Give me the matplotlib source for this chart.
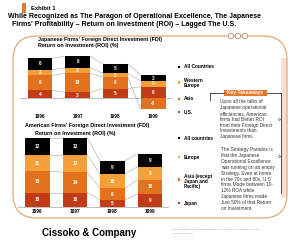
import matplotlib
matplotlib.use("Agg")
import matplotlib.pyplot as plt
from matplotlib.patches import FancyBboxPatch, Rectangle, Circle
import numpy as np

plt.rcParams['font.family'] = ['Liberation Sans', 'DejaVu Sans']

W, H = 300, 241

years = ["1996", "1997", "1998", "1999"]

# Japanese firms' FDI ROI (%), bottom to top
jp_labels = ["U.S.", "Asia", "Western\nEurope", "All Countries"]
jp_us = [4, 3, 5, 6]
jp_asia = [8, 10, 6, -6]
jp_europe = [3, 3, 2, 3]
jp_all = [6, 6, 5, 3]

# American firms' FDI ROI (%), bottom to top
us_labels = ["Japan", "Asia (except\nJapan and\nPacific)", "Europe", "All countries"]
us_japan = [10, 10, 5, 9]
us_asia = [15, 14, 8, 10]
us_europe = [11, 12, 10, 9]
us_all = [12, 12, 9, 9]

colors = ["#C23B17", "#E2721D", "#F4A03A", "#000000"]
orange = "#E8782A"

para1 = ("Upon all the talks of\nJapanese operational\nefficiencies, American\n"
         "firms had Better ROI\nfrom their Foreign Direct\nInvestments than\nJapanese firms.")
para2 = ("The Strategy Paradox is\nthat the Japanese\nOperational Excellence\n"
         "was running on an empty\nStrategy. Even at home\nin the 70s and 80s, U.S\n"
         "firms Made between 10-\n12% ROA while\nJapanese firms made\n"
         "Just 50% of that Return\non Investment.")

fig = plt.figure(figsize=(W / 100, H / 100), dpi=100)
bg = fig.add_axes([0, 0, 1, 1])
bg.set_xlim(0, W)
bg.set_ylim(H, 0)
bg.axis("off")


def px_axes(x0, y0, x1, y1):
    a = fig.add_axes([x0 / W, 1 - y1 / H, (x1 - x0) / W, (y1 - y0) / H])
    a.patch.set_alpha(0)
    a.axis("off")
    return a


def stacked(ax, series, year_y):
    x = np.arange(len(years))
    bw = 0.66
    pos = np.zeros(len(years))
    neg = np.zeros(len(years))
    for vals, c in zip(series, colors):
        vals = np.array(vals, float)
        bottom = np.where(vals >= 0, pos, neg)
        ax.bar(x, vals, bottom=bottom, width=bw, color=c, edgecolor="none", zorder=3)
        for xi, b, v in zip(x, bottom, vals):
            ax.text(xi, b + v / 2, str(int(v)), color="white", ha="center", va="center",
                    fontsize=3.4, fontweight="bold", zorder=4)
        end = bottom + vals
        for i in range(len(x) - 1):
            ax.plot([x[i] + bw / 2, x[i + 1] - bw / 2], [end[i], end[i + 1]],
                    color="#A6A6A6", lw=0.4, zorder=2)
        pos = np.where(vals >= 0, end, pos)
        neg = np.where(vals < 0, end, neg)
    ax.axhline(0, color="#A6A6A6", lw=0.5, zorder=2)
    for xi, yr in zip(x, years):
        ax.text(xi, year_y, yr, ha="center", va="center", fontsize=3.4, fontweight="bold")
    ax.set_xlim(-0.53, 3.5)


# frame
bg.add_patch(Rectangle((281, 58), 6, 140, fc="#F8DDD2", ec="none"))
bg.add_patch(FancyBboxPatch((13, 36), 274, 182, boxstyle="round,pad=0,rounding_size=24",
                            fc="none", ec="#E3A878", lw=0.9))
for cx in [231, 238, 245]:
    bg.add_patch(Circle((cx, 36), 2.7, fc="white", ec="#B98A6A", lw=0.6, zorder=3))

# header
bg.add_patch(Rectangle((22, 3), 3.5, 10, fc=orange, ec="none"))
bg.text(31, 8.5, "Exhibit 1", fontsize=4.2, fontweight="bold", va="center")
bg.text(8, 16, "While Recognized as The Paragon of Operational Excellence, The Japanese",
        fontsize=5.0, fontweight="bold", va="center")
bg.text(10, 24, " Firms' Profitability \u2013 Return on Investment (ROI) \u2013 Lagged The U.S.",
        fontsize=5.0, fontweight="bold", va="center")

# chart titles
bg.text(38, 39.5, "Japanese Firms' Foreign Direct Investment (FDI)", fontsize=3.9,
        fontweight="bold", va="center")
bg.text(38, 45.5, "Return on Investment (ROI) (%)", fontsize=3.9, fontweight="bold", va="center")
bg.text(25, 126, "American Firms' Foreign Direct Investment (FDI)", fontsize=3.9,
        fontweight="bold", va="center")
bg.text(35, 133, "Return on Investment (ROI) (%)", fontsize=3.9, fontweight="bold", va="center")

# charts
ax1 = px_axes(20, 50, 172, 111)
stacked(ax1, [jp_us, jp_asia, jp_europe, jp_all], -9.6)
ax1.set_ylim(-6.8, 25.3)

ax2 = px_axes(17.6, 130, 168.7, 209)
stacked(ax2, [us_japan, us_asia, us_europe, us_all], -3.4)
ax2.set_ylim(-1.4, 53.5)

# legends
for lab, c, y in zip(jp_labels[::-1], colors[::-1], [67, 82.5, 99, 112]):
    bg.add_patch(Rectangle((177.5, y - 1.3), 2.6, 2.6, fc=c, ec="none"))
    bg.text(184, y, lab, fontsize=3.4, fontweight="bold", va="center", linespacing=1.0)
for lab, c, y in zip(us_labels[::-1], colors[::-1], [138, 157, 179.5, 203]):
    bg.add_patch(Rectangle((177.5, y - 1.3), 2.6, 2.6, fc=c, ec="none"))
    bg.text(184, y if "\n" not in lab else y - 5.5, lab, fontsize=3.4, fontweight="bold",
            va="center" if "\n" not in lab else "top", linespacing=1.0)

# key takeaways
bg.add_patch(Rectangle((224, 89.5), 43, 6, fc=orange, ec="none"))
bg.text(245.5, 92.6, "Key Takeaways", color="white", fontsize=3.5, fontweight="bold",
        ha="center", va="center")
bg.plot([210, 224], [92.5, 92.5], color="#333333", lw=0.6)
bg.plot([210, 210], [92.5, 100], color="#333333", lw=0.6)
bg.plot([267, 281], [92.5, 92.5], color="#333333", lw=0.6)
bg.plot([281, 281], [92.5, 193], color="#333333", lw=0.6)
bg.plot([279, 279], [119, 156], ls="none", marker="o", ms=1.2, mfc="white",
        mec="#333333", mew=0.4)
bg.text(220, 99.5, para1, fontsize=3.4, color="#333333", va="top", linespacing=1.2)
bg.text(221, 147.5, para2, fontsize=3.4, color="#333333", va="top", linespacing=1.2)

# footer
bg.text(42, 232.5, "Cissoko & Company", fontsize=7, fontweight="bold", va="center")
bg.text(172, 229.5, "Source: Mathias Kaplan, Harvard Business School; Cissoko & Company analysis",
        fontsize=1.7, color="#909090", va="center")
bg.text(172, 233, "Strategy & Analysis", fontsize=1.7, color="#909090", va="center")

fig.savefig("out.png", dpi=100)
